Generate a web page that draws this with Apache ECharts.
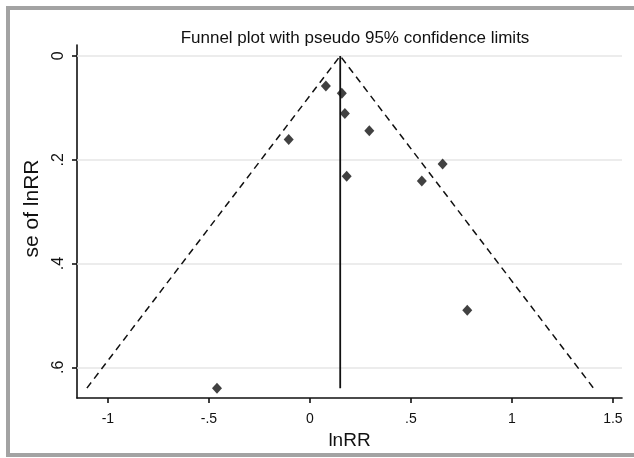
<!DOCTYPE html>
<html>
<head>
<meta charset="utf-8">
<script src="https://cdn.jsdelivr.net/npm/echarts@6/dist/echarts.min.js"></script>
<style>html,body{margin:0;padding:0;background:#fff;}#c{width:634px;height:458px;}</style>
</head>
<body>
<div id="c"></div>
<script>
// Study estimates
var lnRR   = [0.079, 0.158, 0.173, 0.294, -0.105, 0.657, 0.182, 0.554, 0.779, -0.46];
var seLnRR = [0.058, 0.072, 0.111, 0.144, 0.161, 0.208, 0.232, 0.241, 0.490, 0.640];
// Pooled estimate line and pseudo 95% limits
var pooledX = [0.15, 0.15];
var pooledY = [0, 0.64];
var funnelX = [-1.104, 0.15, 1.404];
var funnelY = [0.64, 0, 0.64];
// Ticks
var xTicks = [-1, -0.5, 0, 0.5, 1, 1.5];
var yTicks = [0, 0.2, 0.4, 0.6];
var titleText = 'Funnel plot with pseudo 95% confidence limits';

function fmt(v){
  if (Math.abs(v) < 1e-9) return '0';
  var s = String(Math.round(v*100)/100);
  return s.replace(/^0\./, '.').replace(/^-0\./, '-.');
}
function zip(a, b){ return a.map(function(v,i){ return [v, b[i]]; }); }

var chart = echarts.init(document.getElementById('c'), null, {renderer:'canvas'});
var font = 'Liberation Sans, Arial, sans-serif';
chart.setOption({
  backgroundColor: '#fff',
  animation: false,
  textStyle: { fontFamily: font },
  title: {
    text: titleText, left: 350, top: 25, textAlign: 'center',
    textStyle: { fontFamily: font, fontSize: 17, fontWeight: 'normal', color: '#111' }
  },
  graphic: [{
    type: 'rect', shape: { x: 8, y: 8, width: 660, height: 447 },
    style: { fill: 'none', stroke: '#a3a3a3', lineWidth: 4 }, silent: true, z: 0
  }],
  grid: { left: 77, right: 12, top: 45, bottom: 60, containLabel: false },
  xAxis: {
    type: 'value', min: -1.153, max: 1.545,
    name: 'lnRR', nameLocation: 'middle', nameGap: 26,
    nameTextStyle: { fontFamily: font, fontSize: 19, color: '#111' },
    axisLine: { onZero: false, lineStyle: { color: '#111', width: 1.6 } },
    axisTick: { show: true, length: 5, customValues: xTicks, lineStyle: { color: '#111', width: 1.6 } },
    axisLabel: { customValues: xTicks, formatter: fmt, fontSize: 14, color: '#111', margin: 14, fontFamily: font },
    splitLine: { show: false }
  },
  yAxis: {
    type: 'value', inverse: true, min: -0.021, max: 0.659,
    name: 'se of lnRR', nameLocation: 'middle', nameGap: 31, nameRotate: 90,
    nameTextStyle: { fontFamily: font, fontSize: 21, color: '#111', padding: [0, 0, 0, 26] },
    axisLine: { onZero: false, lineStyle: { color: '#111', width: 1.6 } },
    axisTick: { show: true, length: 5, customValues: yTicks, lineStyle: { color: '#111', width: 1.6 } },
    axisLabel: { customValues: yTicks, formatter: fmt, rotate: 90, fontSize: 16, color: '#111', margin: 10, fontFamily: font },
    splitLine: { show: false }
  },
  series: [
    {
      type: 'line', data: zip(funnelX, funnelY), symbol: 'none', silent: true,
      lineStyle: { color: '#111', width: 1.5, type: [7, 5] }, z: 3,
      markLine: {
        silent: true, symbol: ['none','none'], label: { show: false },
        lineStyle: { color: '#e6e6e6', width: 1.5, type: 'solid' },
        data: yTicks.map(function(v){ return { yAxis: v }; }), z: 1
      }
    },
    {
      type: 'line', data: zip(pooledX, pooledY), symbol: 'none', silent: true,
      lineStyle: { color: '#111', width: 1.8 }, z: 3
    },
    {
      type: 'scatter', data: zip(lnRR, seLnRR), symbol: 'diamond', symbolSize: [10, 11],
      itemStyle: { color: '#111' }, z: 4
    }
  ]
});
</script>
</body>
</html>
